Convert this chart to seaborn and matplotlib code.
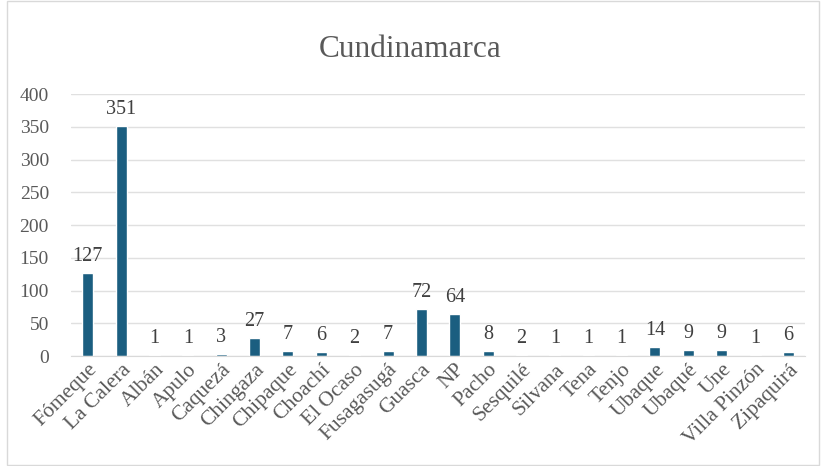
#Importing libraries
import pandas as pd
import matplotlib.pyplot as plt
import seaborn as sns
from matplotlib.patches import Rectangle

#Chart data
Municipios = ["Fómeque", "La Calera", "Albán", "Apulo", "Caquezá", "Chingaza", "Chipaque",
              "Choachí", "El Ocaso", "Fusagasugá", "Guasca", "NP", "Pacho", "Sesquilé",
              "Silvana", "Tena", "Tenjo", "Ubaque", "Ubaqué", "Une", "Villa Pinzón", "Zipaquirá"]
Conteo = [127, 351, 1, 1, 3, 27, 7, 6, 2, 7, 72, 64, 8, 2, 1, 1, 1, 14, 9, 9, 1, 6]

DataFrame = pd.DataFrame({"Municipio": Municipios, "Conteo": Conteo})

sns.set_style("white")
plt.rcParams["font.family"] = ["Liberation Serif", "DejaVu Serif"]

fig = plt.figure(figsize=(8.21, 4.66), dpi=100)
ax = fig.add_axes([0.0866, 0.236, 0.894, 0.562])

sns.barplot(data=DataFrame, x="Municipio", y="Conteo", color="#1b5e80", width=0.33,
            saturation=1, ax=ax)

#Value labels on top of bars
for i, v in enumerate(Conteo):
    ax.text(i, v + 11, str(v), ha="center", va="bottom", fontsize=14.5, color="#404040")

ax.set_ylim(0, 400)
ax.set_yticks(range(0, 401, 50))
ax.set_xlim(-0.5, len(Municipios) - 0.5)
ax.grid(axis="y", color="#e0e0e0", linewidth=1)
ax.set_axisbelow(True)
for s in ["top", "right", "left"]:
    ax.spines[s].set_visible(False)
ax.spines["bottom"].set_color("#d9d9d9")
ax.set_xlabel("")
ax.set_ylabel("")
ax.tick_params(axis="both", length=0, labelsize=14, colors="#595959")
ax.tick_params(axis="y", pad=16)
ax.tick_params(axis="x", pad=3, labelsize=15.5)
plt.setp(ax.get_xticklabels(), rotation=45, ha="right", rotation_mode="anchor")

fig.suptitle("Cundinamarca", y=0.925, fontsize=22.5, color="#595959")

#Light border around the chart
fig.patches.append(Rectangle((0.008, 0.002), 0.99, 0.996, transform=fig.transFigure,
                             fill=False, edgecolor="#d9d9d9", linewidth=1))

fig.savefig("out.png", dpi=100)
